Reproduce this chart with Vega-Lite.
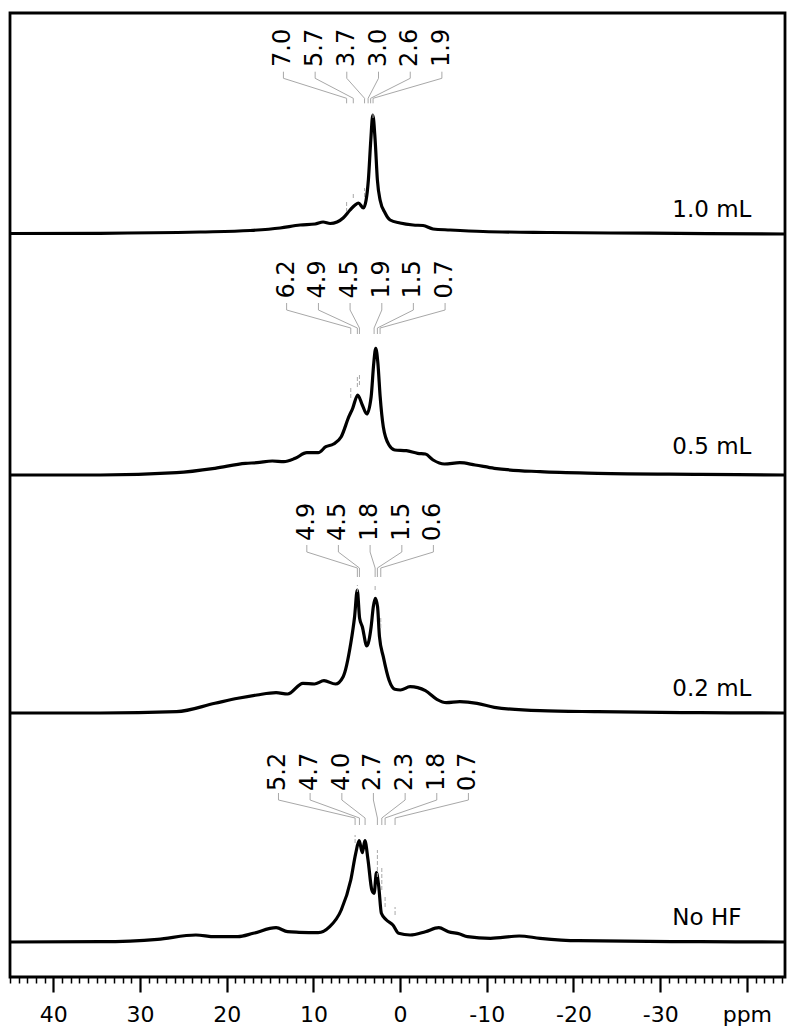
{
  "$schema": "https://vega.github.io/schema/vega-lite/v6.json",
  "width": 775,
  "height": 964,
  "autosize": "none",
  "padding": {"left": 10, "top": 13, "right": 8, "bottom": 54},
  "background": "white",
  "config": {"view": {"stroke": "black", "strokeWidth": 2.8}, "font": "DejaVu Sans",
    "axisX": {"domain": false, "grid": false, "tickCount": 89, "labelOverlap": false, "labelFlush": false, "labelFont": "DejaVu Sans", "labelFontSize": 22, "labelColor": "black", "tickColor": "black", "labelPadding": 12}},
  "data": {"values": [
    {"p":1,"k":"s","ppm":45,"h":0},{"p":1,"k":"s","ppm":34.6,"h":0.2},{"p":1,"k":"s","ppm":23.07,"h":1.5},{"p":1,"k":"s","ppm":17.3,"h":3},{"p":1,"k":"s","ppm":13.84,"h":5.5},{"p":1,"k":"s","ppm":11.53,"h":8.5},{"p":1,"k":"s","ppm":9.8,"h":9.5},{"p":1,"k":"s","ppm":8.88,"h":11.5},{"p":1,"k":"s","ppm":8.07,"h":10},{"p":1,"k":"s","ppm":7.27,"h":11.5},{"p":1,"k":"s","ppm":6.57,"h":15.5},{"p":1,"k":"s","ppm":5.77,"h":23.5},{"p":1,"k":"s","ppm":5.19,"h":28.5},{"p":1,"k":"s","ppm":4.81,"h":30.5},{"p":1,"k":"s","ppm":4.23,"h":25.5},{"p":1,"k":"s","ppm":3.92,"h":33.5},{"p":1,"k":"s","ppm":3.66,"h":53.5},{"p":1,"k":"s","ppm":3.38,"h":93.5},{"p":1,"k":"s","ppm":3.15,"h":118.5},{"p":1,"k":"s","ppm":2.88,"h":93.5},{"p":1,"k":"s","ppm":2.62,"h":53.5},{"p":1,"k":"s","ppm":2.31,"h":33.5},{"p":1,"k":"s","ppm":1.73,"h":20.5},{"p":1,"k":"s","ppm":1.15,"h":13.5},{"p":1,"k":"s","ppm":0,"h":10.5},{"p":1,"k":"s","ppm":-1.5,"h":8.5},{"p":1,"k":"s","ppm":-2.65,"h":8},{"p":1,"k":"s","ppm":-3.81,"h":4.5},{"p":1,"k":"s","ppm":-5.77,"h":3.5},{"p":1,"k":"s","ppm":-9.57,"h":2},{"p":1,"k":"s","ppm":-17.3,"h":1},{"p":1,"k":"s","ppm":-28.8,"h":0.3},{"p":1,"k":"s","ppm":-44.4,"h":-0.5},
    {"p":2,"k":"s","ppm":45,"h":0},{"p":2,"k":"s","ppm":34.6,"h":0},{"p":2,"k":"s","ppm":25.78,"h":2.3},{"p":2,"k":"s","ppm":21.36,"h":6.7},{"p":2,"k":"s","ppm":17.83,"h":11.7},{"p":2,"k":"s","ppm":16.5,"h":12.3},{"p":2,"k":"s","ppm":14.74,"h":14},{"p":2,"k":"s","ppm":13.41,"h":13.3},{"p":2,"k":"s","ppm":12.09,"h":16.7},{"p":2,"k":"s","ppm":10.76,"h":22.3},{"p":2,"k":"s","ppm":9.45,"h":22.3},{"p":2,"k":"s","ppm":8.56,"h":28.3},{"p":2,"k":"s","ppm":7.68,"h":31},{"p":2,"k":"s","ppm":6.79,"h":38.3},{"p":2,"k":"s","ppm":5.91,"h":58.3},{"p":2,"k":"s","ppm":5.47,"h":66.7},{"p":2,"k":"s","ppm":4.89,"h":80},{"p":2,"k":"s","ppm":4.36,"h":70},{"p":2,"k":"s","ppm":3.84,"h":61},{"p":2,"k":"s","ppm":3.34,"h":78.3},{"p":2,"k":"s","ppm":3.04,"h":111.7},{"p":2,"k":"s","ppm":2.81,"h":126.7},{"p":2,"k":"s","ppm":2.56,"h":111.7},{"p":2,"k":"s","ppm":2.3,"h":78.3},{"p":2,"k":"s","ppm":1.94,"h":48.3},{"p":2,"k":"s","ppm":1.28,"h":30},{"p":2,"k":"s","ppm":0.61,"h":25},{"p":2,"k":"s","ppm":-0.72,"h":24.3},{"p":2,"k":"s","ppm":-2.03,"h":21.7},{"p":2,"k":"s","ppm":-2.92,"h":21},{"p":2,"k":"s","ppm":-3.81,"h":15},{"p":2,"k":"s","ppm":-5.12,"h":11},{"p":2,"k":"s","ppm":-6.89,"h":12.3},{"p":2,"k":"s","ppm":-8.65,"h":10},{"p":2,"k":"s","ppm":-10.87,"h":6.7},{"p":2,"k":"s","ppm":-16.15,"h":3.3},{"p":2,"k":"s","ppm":-22.78,"h":1.7},{"p":2,"k":"s","ppm":-34.6,"h":0.7},{"p":2,"k":"s","ppm":-44.4,"h":0},
    {"p":3,"k":"s","ppm":45,"h":0},{"p":3,"k":"s","ppm":34.6,"h":0},{"p":3,"k":"s","ppm":25.78,"h":1.3},{"p":3,"k":"s","ppm":21.36,"h":9.7},{"p":3,"k":"s","ppm":18.71,"h":14.7},{"p":3,"k":"s","ppm":16.5,"h":18},{"p":3,"k":"s","ppm":14.3,"h":20.3},{"p":3,"k":"s","ppm":12.98,"h":19},{"p":3,"k":"s","ppm":11.21,"h":29.7},{"p":3,"k":"s","ppm":9.88,"h":29},{"p":3,"k":"s","ppm":8.78,"h":32.3},{"p":3,"k":"s","ppm":7.45,"h":29},{"p":3,"k":"s","ppm":6.57,"h":36.3},{"p":3,"k":"s","ppm":5.69,"h":69.7},{"p":3,"k":"s","ppm":5.25,"h":96.3},{"p":3,"k":"s","ppm":4.94,"h":123},{"p":3,"k":"s","ppm":4.67,"h":94.7},{"p":3,"k":"s","ppm":4.36,"h":86.3},{"p":3,"k":"s","ppm":3.84,"h":67},{"p":3,"k":"s","ppm":3.34,"h":86.3},{"p":3,"k":"s","ppm":3.09,"h":106.3},{"p":3,"k":"s","ppm":2.86,"h":114.7},{"p":3,"k":"s","ppm":2.6,"h":106.3},{"p":3,"k":"s","ppm":2.38,"h":76.3},{"p":3,"k":"s","ppm":1.94,"h":56.3},{"p":3,"k":"s","ppm":1.28,"h":33},{"p":3,"k":"s","ppm":0.61,"h":23.7},{"p":3,"k":"s","ppm":-0.05,"h":23},{"p":3,"k":"s","ppm":-1.15,"h":26.3},{"p":3,"k":"s","ppm":-2.92,"h":22.3},{"p":3,"k":"s","ppm":-4.24,"h":13.7},{"p":3,"k":"s","ppm":-5.34,"h":10.3},{"p":3,"k":"s","ppm":-6.89,"h":11.3},{"p":3,"k":"s","ppm":-8.88,"h":9.7},{"p":3,"k":"s","ppm":-10.87,"h":5.7},{"p":3,"k":"s","ppm":-16.15,"h":2.3},{"p":3,"k":"s","ppm":-22.78,"h":1.3},{"p":3,"k":"s","ppm":-34.6,"h":0.3},{"p":3,"k":"s","ppm":-44.4,"h":0},
    {"p":4,"k":"s","ppm":45,"h":0},{"p":4,"k":"s","ppm":34.6,"h":0.3},{"p":4,"k":"s","ppm":27.98,"h":2.7},{"p":4,"k":"s","ppm":23.56,"h":7},{"p":4,"k":"s","ppm":21.36,"h":5.3},{"p":4,"k":"s","ppm":18.71,"h":5.3},{"p":4,"k":"s","ppm":16.94,"h":8.7},{"p":4,"k":"s","ppm":14.3,"h":14.3},{"p":4,"k":"s","ppm":12.98,"h":10.3},{"p":4,"k":"s","ppm":11.65,"h":9.7},{"p":4,"k":"s","ppm":9.45,"h":9.3},{"p":4,"k":"s","ppm":8.12,"h":15.3},{"p":4,"k":"s","ppm":6.79,"h":32},{"p":4,"k":"s","ppm":5.69,"h":62},{"p":4,"k":"s","ppm":5.12,"h":88.7},{"p":4,"k":"s","ppm":4.72,"h":101.3},{"p":4,"k":"s","ppm":4.36,"h":89.3},{"p":4,"k":"s","ppm":4.06,"h":101.3},{"p":4,"k":"s","ppm":3.7,"h":82},{"p":4,"k":"s","ppm":3.26,"h":52},{"p":4,"k":"s","ppm":3.0,"h":48.7},{"p":4,"k":"s","ppm":2.73,"h":69.3},{"p":4,"k":"s","ppm":2.47,"h":56},{"p":4,"k":"s","ppm":2.16,"h":28.7},{"p":4,"k":"s","ppm":1.58,"h":22},{"p":4,"k":"s","ppm":0.83,"h":17},{"p":4,"k":"s","ppm":0.17,"h":8.7},{"p":4,"k":"s","ppm":-1.15,"h":7},{"p":4,"k":"s","ppm":-2.92,"h":10.3},{"p":4,"k":"s","ppm":-4.46,"h":14.3},{"p":4,"k":"s","ppm":-5.57,"h":10.3},{"p":4,"k":"s","ppm":-6.89,"h":8},{"p":4,"k":"s","ppm":-7.77,"h":5.3},{"p":4,"k":"s","ppm":-10.43,"h":3.7},{"p":4,"k":"s","ppm":-13.74,"h":6},{"p":4,"k":"s","ppm":-16.15,"h":3.7},{"p":4,"k":"s","ppm":-20.58,"h":1.3},{"p":4,"k":"s","ppm":-34.6,"h":0.3},{"p":4,"k":"s","ppm":-44.4,"h":0},
    {"p":1,"k":"pk","t":"7.0","lx":13.46,"px":6.17,"a":161.8,"b":155.2,"c":135.2,"d":130.2,"th":166.5},
    {"p":1,"k":"pk","t":"5.7","lx":9.8,"px":5.4,"a":161.8,"b":155.2,"c":135.2,"d":130.2,"th":166.5},
    {"p":1,"k":"pk","t":"3.7","lx":6.15,"px":4.1,"a":161.8,"b":155.2,"c":135.2,"d":130.2,"th":166.5},
    {"p":1,"k":"pk","t":"3.0","lx":2.49,"px":3.69,"a":161.8,"b":155.2,"c":135.2,"d":130.2,"th":166.5},
    {"p":1,"k":"pk","t":"2.6","lx":-1.17,"px":3.4,"a":161.8,"b":155.2,"c":135.2,"d":130.2,"th":166.5},
    {"p":1,"k":"pk","t":"1.9","lx":-4.82,"px":3.12,"a":161.8,"b":155.2,"c":135.2,"d":130.2,"th":166.5},
    {"p":2,"k":"pk","t":"6.2","lx":13.09,"px":5.69,"a":172,"b":165,"c":147,"d":141,"th":176.5},
    {"p":2,"k":"pk","t":"4.9","lx":9.42,"px":4.93,"a":172,"b":165,"c":147,"d":141,"th":176.5},
    {"p":2,"k":"pk","t":"4.5","lx":5.77,"px":4.69,"a":172,"b":165,"c":147,"d":141,"th":176.5},
    {"p":2,"k":"pk","t":"1.9","lx":2.11,"px":3.0,"a":172,"b":165,"c":147,"d":141,"th":176.5},
    {"p":2,"k":"pk","t":"1.5","lx":-1.53,"px":2.62,"a":172,"b":165,"c":147,"d":141,"th":176.5},
    {"p":2,"k":"pk","t":"0.7","lx":-5.19,"px":2.31,"a":172,"b":165,"c":147,"d":141,"th":176.5},
    {"p":3,"k":"pk","t":"4.9","lx":10.76,"px":4.93,"a":168,"b":161,"c":145,"d":136,"th":172},
    {"p":3,"k":"pk","t":"4.5","lx":7.12,"px":4.69,"a":168,"b":161,"c":145,"d":136,"th":172},
    {"p":3,"k":"pk","t":"1.8","lx":3.46,"px":2.88,"a":168,"b":161,"c":145,"d":136,"th":172},
    {"p":3,"k":"pk","t":"1.5","lx":-0.2,"px":2.62,"a":168,"b":161,"c":145,"d":136,"th":172},
    {"p":3,"k":"pk","t":"0.6","lx":-3.84,"px":2.23,"a":168,"b":161,"c":145,"d":136,"th":172},
    {"p":4,"k":"pk","t":"5.2","lx":14.03,"px":5.19,"a":149,"b":142,"c":124,"d":117,"th":151},
    {"p":4,"k":"pk","t":"4.7","lx":10.38,"px":4.69,"a":149,"b":142,"c":124,"d":117,"th":151},
    {"p":4,"k":"pk","t":"4.0","lx":6.72,"px":4.04,"a":149,"b":142,"c":124,"d":117,"th":151},
    {"p":4,"k":"pk","t":"2.7","lx":3.08,"px":2.62,"a":149,"b":142,"c":124,"d":117,"th":151},
    {"p":4,"k":"pk","t":"2.3","lx":-0.58,"px":2.11,"a":149,"b":142,"c":124,"d":117,"th":151},
    {"p":4,"k":"pk","t":"1.8","lx":-4.23,"px":1.73,"a":149,"b":142,"c":124,"d":117,"th":151},
    {"p":4,"k":"pk","t":"0.7","lx":-7.88,"px":0.58,"a":149,"b":142,"c":124,"d":117,"th":151},
    {"p":1,"k":"m","ppm":6.17,"h":21.5,"h2":33.5},{"p":1,"k":"m","ppm":5.4,"h":35.5,"h2":41.5},{"p":1,"k":"m","ppm":4.1,"h":36.5,"h2":45.5},{"p":1,"k":"m","ppm":3.12,"h":115.5,"h2":121},
    {"p":2,"k":"m","ppm":5.69,"h":77,"h2":87},{"p":2,"k":"m","ppm":4.93,"h":88,"h2":100},{"p":2,"k":"m","ppm":4.69,"h":90,"h2":100},
    {"p":3,"k":"m","ppm":4.93,"h":121,"h2":128},{"p":3,"k":"m","ppm":2.88,"h":123,"h2":128},{"p":3,"k":"m","ppm":2.23,"h":85,"h2":95},
    {"p":4,"k":"m","ppm":5.19,"h":99,"h2":107},{"p":4,"k":"m","ppm":2.62,"h":65,"h2":92},{"p":4,"k":"m","ppm":2.11,"h":52,"h2":75},{"p":4,"k":"m","ppm":1.73,"h":35,"h2":45},{"p":4,"k":"m","ppm":0.58,"h":27,"h2":35},
    {"p":1,"k":"n","t":"1.0 mL","ppm":-31.4,"h":16.5},
    {"p":2,"k":"n","t":"0.5 mL","ppm":-31.4,"h":21},
    {"p":3,"k":"n","t":"0.2 mL","ppm":-31.4,"h":17},
    {"p":4,"k":"n","t":"No HF","ppm":-31.4,"h":17}
  ]},
  "resolve": {"scale": {"y": "independent"}},
  "layer": [
    {"transform": [{"filter": "datum.p == 1"}],
     "layer": [
      {"transform": [{"filter": "datum.k == 's'"}], "mark": {"type": "line", "color": "black", "strokeWidth": 3.2, "interpolate": "monotone"},
       "encoding": {"x": {"field": "ppm", "type": "quantitative", "title": null, "scale": {"domain": [-44.4, 45], "reverse": true, "nice": false, "zero": false},
         "axis": {"title": null, "domain": false, "grid": false, "tickCount": 89, "labelOverlap": false, "labelFlush": false, "labelFont": "DejaVu Sans", "labelFontSize": 22, "labelColor": "black", "tickColor": "black", "labelPadding": 12,
           "labelExpr": "abs(datum.value % 10) < 0.001 ? (datum.value == -40 ? 'ppm' : '' + datum.value) : ''",
           "tickSize": {"condition": {"test": "abs(datum.value % 10) < 0.001", "value": 15}, "value": 6},
           "tickWidth": {"condition": {"test": "abs(datum.value % 10) < 0.001", "value": 2.2}, "value": 1.5}}},
        "y": {"field": "h", "type": "quantitative", "scale": {"domain": [-743.5, 220.5], "nice": false, "zero": false}, "axis": null},
        "order": {"field": "ppm", "sort": "descending"}}},
      {"transform": [{"filter": "datum.k == 'pk'"}], "mark": {"type": "rule", "color": "#a8a8a8", "strokeWidth": 1},
       "encoding": {"x": {"field": "lx", "type": "quantitative", "title": null, "scale": {"domain": [-44.4, 45], "reverse": true, "nice": false, "zero": false}},
        "y": {"field": "a", "type": "quantitative", "scale": {"domain": [-743.5, 220.5], "nice": false, "zero": false}, "axis": null}, "y2": {"field": "b"}}},
      {"transform": [{"filter": "datum.k == 'pk'"}], "mark": {"type": "rule", "color": "#a8a8a8", "strokeWidth": 1},
       "encoding": {"x": {"field": "lx", "type": "quantitative", "title": null, "scale": {"domain": [-44.4, 45], "reverse": true, "nice": false, "zero": false}}, "x2": {"field": "px"},
        "y": {"field": "b", "type": "quantitative", "scale": {"domain": [-743.5, 220.5], "nice": false, "zero": false}, "axis": null}, "y2": {"field": "c"}}},
      {"transform": [{"filter": "datum.k == 'pk'"}], "mark": {"type": "rule", "color": "#a8a8a8", "strokeWidth": 1},
       "encoding": {"x": {"field": "px", "type": "quantitative", "title": null, "scale": {"domain": [-44.4, 45], "reverse": true, "nice": false, "zero": false}},
        "y": {"field": "c", "type": "quantitative", "scale": {"domain": [-743.5, 220.5], "nice": false, "zero": false}, "axis": null}, "y2": {"field": "d"}}},
      {"transform": [{"filter": "datum.k == 'm'"}], "mark": {"type": "rule", "color": "#a8a8a8", "strokeWidth": 1, "strokeDash": [4, 2]},
       "encoding": {"x": {"field": "ppm", "type": "quantitative", "title": null, "scale": {"domain": [-44.4, 45], "reverse": true, "nice": false, "zero": false}},
        "y": {"field": "h", "type": "quantitative", "scale": {"domain": [-743.5, 220.5], "nice": false, "zero": false}, "axis": null}, "y2": {"field": "h2"}}},
      {"transform": [{"filter": "datum.k == 'pk'"}], "mark": {"type": "text", "angle": -90, "align": "left", "baseline": "middle", "font": "DejaVu Sans", "fontSize": 24, "color": "black"},
       "encoding": {"x": {"field": "lx", "type": "quantitative", "title": null, "scale": {"domain": [-44.4, 45], "reverse": true, "nice": false, "zero": false}},
        "y": {"field": "th", "type": "quantitative", "scale": {"domain": [-743.5, 220.5], "nice": false, "zero": false}, "axis": null}, "text": {"field": "t"}}},
      {"transform": [{"filter": "datum.k == 'n'"}], "mark": {"type": "text", "align": "left", "baseline": "alphabetic", "font": "DejaVu Sans", "fontSize": 23, "color": "black"},
       "encoding": {"x": {"field": "ppm", "type": "quantitative", "title": null, "scale": {"domain": [-44.4, 45], "reverse": true, "nice": false, "zero": false}},
        "y": {"field": "h", "type": "quantitative", "scale": {"domain": [-743.5, 220.5], "nice": false, "zero": false}, "axis": null}, "text": {"field": "t"}}}
     ]},
    {"transform": [{"filter": "datum.p == 2"}],
     "layer": [
      {"transform": [{"filter": "datum.k == 's'"}], "mark": {"type": "line", "color": "black", "strokeWidth": 3.2, "interpolate": "monotone"},
       "encoding": {"x": {"field": "ppm", "type": "quantitative", "title": null, "scale": {"domain": [-44.4, 45], "reverse": true, "nice": false, "zero": false}},
        "y": {"field": "h", "type": "quantitative", "scale": {"domain": [-502, 462], "nice": false, "zero": false}, "axis": null},
        "order": {"field": "ppm", "sort": "descending"}}},
      {"transform": [{"filter": "datum.k == 'pk'"}], "mark": {"type": "rule", "color": "#a8a8a8", "strokeWidth": 1},
       "encoding": {"x": {"field": "lx", "type": "quantitative", "title": null, "scale": {"domain": [-44.4, 45], "reverse": true, "nice": false, "zero": false}},
        "y": {"field": "a", "type": "quantitative", "scale": {"domain": [-502, 462], "nice": false, "zero": false}, "axis": null}, "y2": {"field": "b"}}},
      {"transform": [{"filter": "datum.k == 'pk'"}], "mark": {"type": "rule", "color": "#a8a8a8", "strokeWidth": 1},
       "encoding": {"x": {"field": "lx", "type": "quantitative", "title": null, "scale": {"domain": [-44.4, 45], "reverse": true, "nice": false, "zero": false}}, "x2": {"field": "px"},
        "y": {"field": "b", "type": "quantitative", "scale": {"domain": [-502, 462], "nice": false, "zero": false}, "axis": null}, "y2": {"field": "c"}}},
      {"transform": [{"filter": "datum.k == 'pk'"}], "mark": {"type": "rule", "color": "#a8a8a8", "strokeWidth": 1},
       "encoding": {"x": {"field": "px", "type": "quantitative", "title": null, "scale": {"domain": [-44.4, 45], "reverse": true, "nice": false, "zero": false}},
        "y": {"field": "c", "type": "quantitative", "scale": {"domain": [-502, 462], "nice": false, "zero": false}, "axis": null}, "y2": {"field": "d"}}},
      {"transform": [{"filter": "datum.k == 'm'"}], "mark": {"type": "rule", "color": "#a8a8a8", "strokeWidth": 1, "strokeDash": [4, 2]},
       "encoding": {"x": {"field": "ppm", "type": "quantitative", "title": null, "scale": {"domain": [-44.4, 45], "reverse": true, "nice": false, "zero": false}},
        "y": {"field": "h", "type": "quantitative", "scale": {"domain": [-502, 462], "nice": false, "zero": false}, "axis": null}, "y2": {"field": "h2"}}},
      {"transform": [{"filter": "datum.k == 'pk'"}], "mark": {"type": "text", "angle": -90, "align": "left", "baseline": "middle", "font": "DejaVu Sans", "fontSize": 24, "color": "black"},
       "encoding": {"x": {"field": "lx", "type": "quantitative", "title": null, "scale": {"domain": [-44.4, 45], "reverse": true, "nice": false, "zero": false}},
        "y": {"field": "th", "type": "quantitative", "scale": {"domain": [-502, 462], "nice": false, "zero": false}, "axis": null}, "text": {"field": "t"}}},
      {"transform": [{"filter": "datum.k == 'n'"}], "mark": {"type": "text", "align": "left", "baseline": "alphabetic", "font": "DejaVu Sans", "fontSize": 23, "color": "black"},
       "encoding": {"x": {"field": "ppm", "type": "quantitative", "title": null, "scale": {"domain": [-44.4, 45], "reverse": true, "nice": false, "zero": false}},
        "y": {"field": "h", "type": "quantitative", "scale": {"domain": [-502, 462], "nice": false, "zero": false}, "axis": null}, "text": {"field": "t"}}}
     ]},
    {"transform": [{"filter": "datum.p == 3"}],
     "layer": [
      {"transform": [{"filter": "datum.k == 's'"}], "mark": {"type": "line", "color": "black", "strokeWidth": 3.2, "interpolate": "monotone"},
       "encoding": {"x": {"field": "ppm", "type": "quantitative", "title": null, "scale": {"domain": [-44.4, 45], "reverse": true, "nice": false, "zero": false}},
        "y": {"field": "h", "type": "quantitative", "scale": {"domain": [-264, 700], "nice": false, "zero": false}, "axis": null},
        "order": {"field": "ppm", "sort": "descending"}}},
      {"transform": [{"filter": "datum.k == 'pk'"}], "mark": {"type": "rule", "color": "#a8a8a8", "strokeWidth": 1},
       "encoding": {"x": {"field": "lx", "type": "quantitative", "title": null, "scale": {"domain": [-44.4, 45], "reverse": true, "nice": false, "zero": false}},
        "y": {"field": "a", "type": "quantitative", "scale": {"domain": [-264, 700], "nice": false, "zero": false}, "axis": null}, "y2": {"field": "b"}}},
      {"transform": [{"filter": "datum.k == 'pk'"}], "mark": {"type": "rule", "color": "#a8a8a8", "strokeWidth": 1},
       "encoding": {"x": {"field": "lx", "type": "quantitative", "title": null, "scale": {"domain": [-44.4, 45], "reverse": true, "nice": false, "zero": false}}, "x2": {"field": "px"},
        "y": {"field": "b", "type": "quantitative", "scale": {"domain": [-264, 700], "nice": false, "zero": false}, "axis": null}, "y2": {"field": "c"}}},
      {"transform": [{"filter": "datum.k == 'pk'"}], "mark": {"type": "rule", "color": "#a8a8a8", "strokeWidth": 1},
       "encoding": {"x": {"field": "px", "type": "quantitative", "title": null, "scale": {"domain": [-44.4, 45], "reverse": true, "nice": false, "zero": false}},
        "y": {"field": "c", "type": "quantitative", "scale": {"domain": [-264, 700], "nice": false, "zero": false}, "axis": null}, "y2": {"field": "d"}}},
      {"transform": [{"filter": "datum.k == 'm'"}], "mark": {"type": "rule", "color": "#a8a8a8", "strokeWidth": 1, "strokeDash": [4, 2]},
       "encoding": {"x": {"field": "ppm", "type": "quantitative", "title": null, "scale": {"domain": [-44.4, 45], "reverse": true, "nice": false, "zero": false}},
        "y": {"field": "h", "type": "quantitative", "scale": {"domain": [-264, 700], "nice": false, "zero": false}, "axis": null}, "y2": {"field": "h2"}}},
      {"transform": [{"filter": "datum.k == 'pk'"}], "mark": {"type": "text", "angle": -90, "align": "left", "baseline": "middle", "font": "DejaVu Sans", "fontSize": 24, "color": "black"},
       "encoding": {"x": {"field": "lx", "type": "quantitative", "title": null, "scale": {"domain": [-44.4, 45], "reverse": true, "nice": false, "zero": false}},
        "y": {"field": "th", "type": "quantitative", "scale": {"domain": [-264, 700], "nice": false, "zero": false}, "axis": null}, "text": {"field": "t"}}},
      {"transform": [{"filter": "datum.k == 'n'"}], "mark": {"type": "text", "align": "left", "baseline": "alphabetic", "font": "DejaVu Sans", "fontSize": 23, "color": "black"},
       "encoding": {"x": {"field": "ppm", "type": "quantitative", "title": null, "scale": {"domain": [-44.4, 45], "reverse": true, "nice": false, "zero": false}},
        "y": {"field": "h", "type": "quantitative", "scale": {"domain": [-264, 700], "nice": false, "zero": false}, "axis": null}, "text": {"field": "t"}}}
     ]},
    {"transform": [{"filter": "datum.p == 4"}],
     "layer": [
      {"transform": [{"filter": "datum.k == 's'"}], "mark": {"type": "line", "color": "black", "strokeWidth": 3.2, "interpolate": "monotone"},
       "encoding": {"x": {"field": "ppm", "type": "quantitative", "title": null, "scale": {"domain": [-44.4, 45], "reverse": true, "nice": false, "zero": false}},
        "y": {"field": "h", "type": "quantitative", "scale": {"domain": [-35, 929], "nice": false, "zero": false}, "axis": null},
        "order": {"field": "ppm", "sort": "descending"}}},
      {"transform": [{"filter": "datum.k == 'pk'"}], "mark": {"type": "rule", "color": "#a8a8a8", "strokeWidth": 1},
       "encoding": {"x": {"field": "lx", "type": "quantitative", "title": null, "scale": {"domain": [-44.4, 45], "reverse": true, "nice": false, "zero": false}},
        "y": {"field": "a", "type": "quantitative", "scale": {"domain": [-35, 929], "nice": false, "zero": false}, "axis": null}, "y2": {"field": "b"}}},
      {"transform": [{"filter": "datum.k == 'pk'"}], "mark": {"type": "rule", "color": "#a8a8a8", "strokeWidth": 1},
       "encoding": {"x": {"field": "lx", "type": "quantitative", "title": null, "scale": {"domain": [-44.4, 45], "reverse": true, "nice": false, "zero": false}}, "x2": {"field": "px"},
        "y": {"field": "b", "type": "quantitative", "scale": {"domain": [-35, 929], "nice": false, "zero": false}, "axis": null}, "y2": {"field": "c"}}},
      {"transform": [{"filter": "datum.k == 'pk'"}], "mark": {"type": "rule", "color": "#a8a8a8", "strokeWidth": 1},
       "encoding": {"x": {"field": "px", "type": "quantitative", "title": null, "scale": {"domain": [-44.4, 45], "reverse": true, "nice": false, "zero": false}},
        "y": {"field": "c", "type": "quantitative", "scale": {"domain": [-35, 929], "nice": false, "zero": false}, "axis": null}, "y2": {"field": "d"}}},
      {"transform": [{"filter": "datum.k == 'm'"}], "mark": {"type": "rule", "color": "#a8a8a8", "strokeWidth": 1, "strokeDash": [4, 2]},
       "encoding": {"x": {"field": "ppm", "type": "quantitative", "title": null, "scale": {"domain": [-44.4, 45], "reverse": true, "nice": false, "zero": false}},
        "y": {"field": "h", "type": "quantitative", "scale": {"domain": [-35, 929], "nice": false, "zero": false}, "axis": null}, "y2": {"field": "h2"}}},
      {"transform": [{"filter": "datum.k == 'pk'"}], "mark": {"type": "text", "angle": -90, "align": "left", "baseline": "middle", "font": "DejaVu Sans", "fontSize": 24, "color": "black"},
       "encoding": {"x": {"field": "lx", "type": "quantitative", "title": null, "scale": {"domain": [-44.4, 45], "reverse": true, "nice": false, "zero": false}},
        "y": {"field": "th", "type": "quantitative", "scale": {"domain": [-35, 929], "nice": false, "zero": false}, "axis": null}, "text": {"field": "t"}}},
      {"transform": [{"filter": "datum.k == 'n'"}], "mark": {"type": "text", "align": "left", "baseline": "alphabetic", "font": "DejaVu Sans", "fontSize": 23, "color": "black"},
       "encoding": {"x": {"field": "ppm", "type": "quantitative", "title": null, "scale": {"domain": [-44.4, 45], "reverse": true, "nice": false, "zero": false}},
        "y": {"field": "h", "type": "quantitative", "scale": {"domain": [-35, 929], "nice": false, "zero": false}, "axis": null}, "text": {"field": "t"}}}
     ]}
  ]
}
